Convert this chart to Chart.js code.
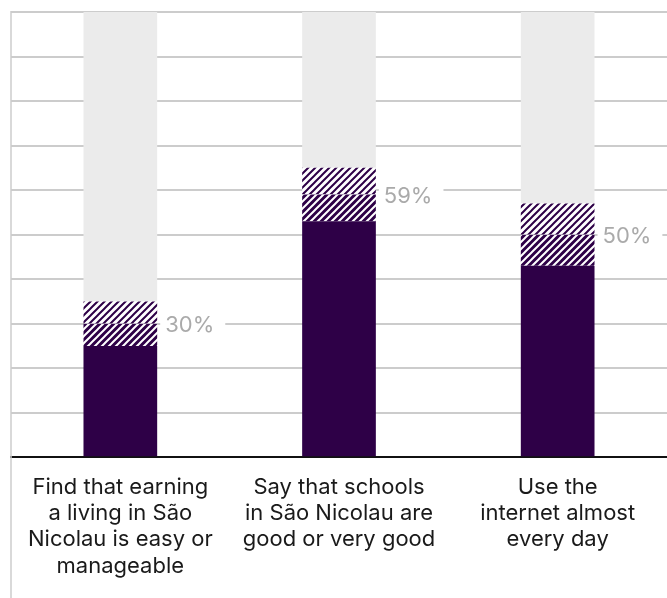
<!DOCTYPE html>
<html>
<head>
<meta charset="utf-8">
<script src="https://cdn.jsdelivr.net/npm/chart.js@4/dist/chart.umd.min.js"></script>
<style>
  html, body { margin: 0; padding: 0; background: #fff; }
  #wrap { width: 667px; height: 598px; }
</style>
</head>
<body>
<div id="wrap"><canvas id="bar-chart"></canvas></div>
<script>
const categories = [
    [ 'Find that earning', 'a living in São', 'Nicolau is easy or', 'manageable' ],
    [ 'Say that schools', 'in São Nicolau are', 'good or very good' ],
    [ 'Use the', 'internet almost', 'every day' ]
];
const estimate = [ 30, 59, 50 ];
const lower = [ 25, 53, 43 ];
const upper = [ 35, 65, 57 ];
const yTicks = [ 0, 10, 20, 30, 40, 50, 60, 70, 80, 90, 100 ];

const PURPLE = '#2e0047';
const FONT = 'Inter, "Noto Sans", sans-serif';

// diagonal hatch tile
function hatch( bg, fg ) {
    const s = 7;
    const c = document.createElement( 'canvas' );
    c.width = s; c.height = s;
    const g = c.getContext( '2d' );
    g.fillStyle = bg;
    g.fillRect( 0, 0, s, s );
    g.strokeStyle = fg;
    g.lineWidth = 2;
    g.beginPath();
    g.moveTo( -1, s + 1 ); g.lineTo( s + 1, -1 );
    g.moveTo( -1, 1 ); g.lineTo( 1, -1 );
    g.moveTo( s - 1, s + 1 ); g.lineTo( s + 1, s - 1 );
    g.stroke();
    return g.createPattern( c, 'repeat' );
}

// left edge line running down through the labels
const leftLine = {
    id: 'leftLine',
    beforeDatasetsDraw( chart ) {
        const { ctx, chartArea } = chart;
        ctx.save();
        ctx.strokeStyle = '#cccccc';
        ctx.lineWidth = 1.5;
        ctx.beginPath();
        ctx.moveTo( chartArea.left, chartArea.top - 1 );
        ctx.lineTo( chartArea.left, chart.height );
        ctx.stroke();
        ctx.restore();
    }
};

// value labels next to each bar, with a white box over the grid
const valueLabels = {
    id: 'valueLabels',
    afterDatasetsDraw( chart ) {
        const { ctx } = chart;
        const meta = chart.getDatasetMeta( 0 );
        const y = chart.scales.y;
        ctx.save();
        ctx.font = '22px ' + FONT;
        ctx.textBaseline = 'middle';
        ctx.textAlign = 'left';
        meta.data.forEach( function ( bar, i ) {
            const txt = estimate[ i ] + '%';
            const right = bar.x + bar.width / 2;
            const py = y.getPixelForValue( estimate[ i ] );
            const w = ctx.measureText( txt ).width;
            ctx.fillStyle = '#ffffff';
            ctx.fillRect( right + 3, py - 12, w + 16, 24 );
            ctx.fillStyle = '#aaaaaa';
            ctx.fillText( txt, right + 8, py + 2 );
        });
        ctx.restore();
    }
};

const common = { borderWidth: 0, categoryPercentage: 1, barPercentage: 0.337, stack: 's' };

const dataBarChart = {
    labels: categories,
    datasets: [
        Object.assign( { label: 'lower', data: lower, backgroundColor: PURPLE }, common ),
        Object.assign( { label: 'low band', data: estimate.map( ( v, i ) => v - lower[ i ] ), backgroundColor: hatch( PURPLE, '#ffffff' ) }, common ),
        Object.assign( { label: 'high band', data: upper.map( ( v, i ) => v - estimate[ i ] ), backgroundColor: hatch( '#ffffff', PURPLE ) }, common ),
        Object.assign( { label: 'rest', data: upper.map( v => 100 - v ), backgroundColor: '#ebebeb' }, common )
    ]
};

const optionsBarChart = {
    responsive: true,
    maintainAspectRatio: false,
    animation: false,
    layout: { padding: { top: 12, left: 11, right: 0, bottom: 10 } },
    plugins: { legend: { display: false }, tooltip: { enabled: false } },
    scales: {
        x: {
            stacked: true,
            z: 1,
            grid: { display: false },
            border: { display: true, color: '#111111', width: 2 },
            ticks: {
                color: '#1a1a1a',
                padding: 9,
                maxRotation: 0,
                autoSkip: false,
                font: { family: FONT, size: 22, lineHeight: 1.19 }
            }
        },
        y: {
            stacked: true,
            min: yTicks[ 0 ],
            max: yTicks[ yTicks.length - 1 ],
            afterBuildTicks( scale ) { scale.ticks = yTicks.map( v => ( { value: v } ) ); },
            border: { display: false },
            grid: { color: '#cccccc', lineWidth: 2, drawTicks: false },
            ticks: { display: false }
        }
    }
};

new Chart( document.querySelector( '#bar-chart' ), {
    type: 'bar',
    data: dataBarChart,
    options: optionsBarChart,
    plugins: [ leftLine, valueLabels ]
});
</script>
</body>
</html>
